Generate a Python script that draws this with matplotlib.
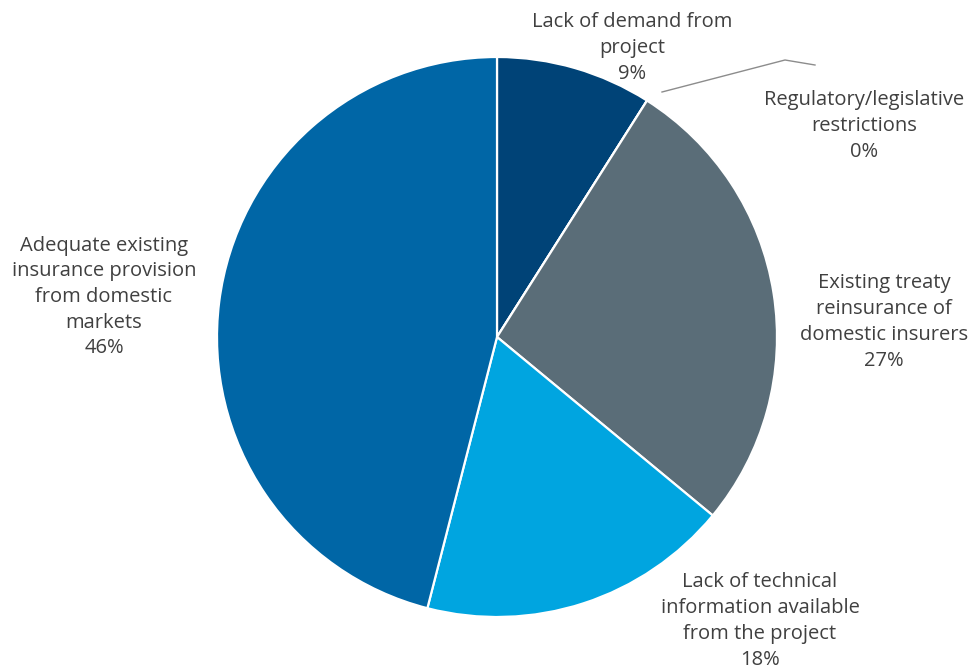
import matplotlib
matplotlib.use('Agg')
import matplotlib.pyplot as plt

plt.rcParams['font.family'] = ['Open Sans', 'DejaVu Sans']

labels = ['Lack of demand from\nproject',
          'Regulatory/legislative\nrestrictions',
          'Existing treaty\nreinsurance of\ndomestic insurers',
          'Lack of technical\ninformation available\nfrom the project',
          'Adequate existing\ninsurance provision\nfrom domestic\nmarkets']
shares = [9, 0, 27, 18, 46]
colors = ['#004377', '#5a6d78', '#5a6d78', '#00a5e0', '#0066a6']

# label anchor points (pixel space, origin bottom-left)
label_pos = [(632, 621), (864, 543), (884, 347), (760, 48), (104, 372)]

fig = plt.figure(figsize=(9.69, 6.69), dpi=100)
ax = fig.add_axes([0, 0, 1, 1])

ax.pie(shares, colors=colors, startangle=90, counterclock=False,
       center=(497, 332), radius=280,
       wedgeprops=dict(edgecolor='white', linewidth=1.6))

# pie() resets the limits, so fix the pixel frame afterwards
ax.set_xlim(0, 969)
ax.set_ylim(0, 669)
ax.set_aspect('equal')
ax.axis('off')

for lab, val, (x, y) in zip(labels, shares, label_pos):
    ax.text(x, y, f'{lab}\n{val}%', ha='center', va='center',
            fontsize=14.5, color='#404040', linespacing=1.38)

# leader line for the zero slice
ax.plot([662, 785, 815], [669 - 92, 669 - 60, 669 - 65],
        color='#8c8c8c', linewidth=1)

fig.savefig('out.png', dpi=100)
